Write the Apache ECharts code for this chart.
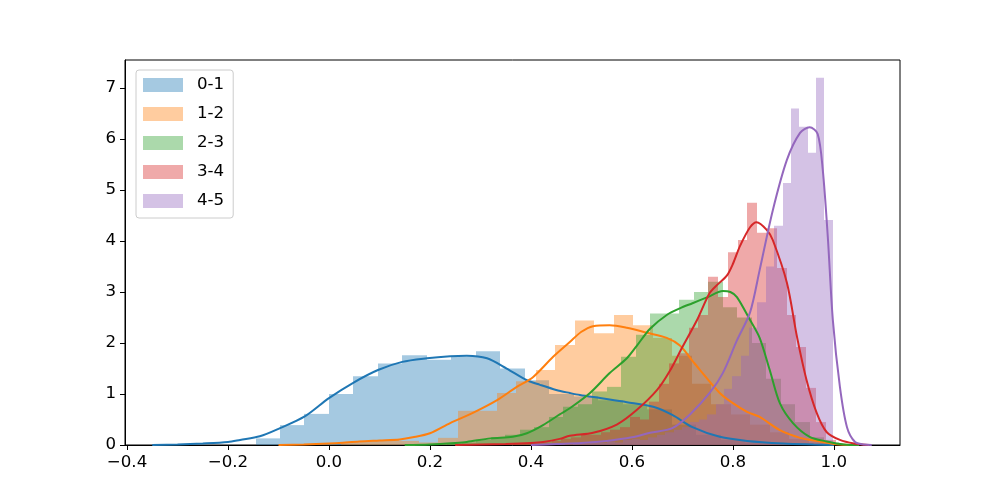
<!DOCTYPE html>
<html>
<head>
<meta charset="utf-8">
<script src="https://cdn.jsdelivr.net/npm/echarts@6/dist/echarts.min.js"></script>
<style>html,body{margin:0;padding:0;background:#fff}#c{width:1000px;height:500px}</style>
</head>
<body>
<div id="c"></div>
<script>
// ---------------- data ----------------
const names = ['0-1', '1-2', '2-3', '3-4', '4-5'];
const colors = ['#1f77b4', '#ff7f0e', '#2ca02c', '#d62728', '#9467bd'];

// histogram bins: first left edge, bin width, heights (density)
const binStart = [-0.1455, 0.0238, 0.2347, 0.3244, 0.4502];
const binWidth = [0.0485, 0.0386, 0.0287, 0.0194, 0.0166];
const hist0 = [0.13, 0.39, 0.61, 1.0, 1.35, 1.6, 1.76, 1.67, 1.73, 1.84, 1.5, 1.27, 1.0, 0.95, 0.88, 0.8, 0.7, 0.4, 0.2, 0.1, 0.05, 0.03];
const hist1 = [0.05, 0.08, 0.1, 0.08, 0.05, 0.14, 0.67, 0.67, 1.02, 1.25, 1.47, 1.96, 2.44, 2.19, 2.55, 2.35, 2.1, 1.75, 1.2, 0.8, 0.6, 0.4, 0.25, 0.12, 0.05];
const hist2 = [0.03, 0.05, 0.1, 0.15, 0.2, 0.3, 0.35, 0.55, 0.75, 0.8, 1.05, 1.14, 1.73, 2.16, 2.58, 2.58, 2.85, 3.0, 3.2, 2.7, 2.5, 2.0, 1.3, 0.8, 0.45, 0.15, 0.05];
const hist3 = [0.02, 0, 0.03, 0.02, 0.04, 0.05, 0.08, 0.12, 0.15, 0.2, 0.2, 0.25, 0.3, 0.35, 0.55, 0.5, 0.85, 1.2, 1.6, 1.8, 2.3, 2.55, 3.3, 2.9, 3.78, 4.02, 4.75, 4.16, 4.25, 3.47, 2.55, 1.92, 1.12, 0.45, 0.1];
const hist4 = [0.02, 0, 0.03, 0.02, 0.05, 0.04, 0.07, 0.05, 0.1, 0.12, 0.1, 0.15, 0.2, 0.25, 0.3, 0.35, 0.45, 0.5, 0.6, 0.8, 1.1, 1.35, 1.75, 2.3, 2.8, 3.5, 4.3, 5.14, 6.6, 6.24, 5.73, 7.2, 4.41];

// KDE curves [x, density]
const kde0 = [[-0.35,0.0],[-0.3,0.01],[-0.25,0.03],[-0.2,0.06],[-0.176,0.1],[-0.137,0.17],[-0.097,0.33],[-0.048,0.56],[0,0.92],[0.048,1.22],[0.097,1.47],[0.145,1.63],[0.194,1.7],[0.24,1.74],[0.273,1.75],[0.313,1.7],[0.352,1.5],[0.392,1.27],[0.418,1.18],[0.45,1.08],[0.477,1.02],[0.497,0.98],[0.537,0.92],[0.59,0.84],[0.642,0.75],[0.68,0.59],[0.72,0.35],[0.774,0.16],[0.828,0.08],[0.9,0.03],[0.96,0.01],[1.0,0.0]];
const kde1 = [[-0.1,0.0],[-0.05,0.01],[0.0,0.03],[0.02,0.04],[0.06,0.07],[0.1,0.09],[0.14,0.11],[0.166,0.15],[0.2,0.23],[0.24,0.43],[0.285,0.63],[0.333,0.88],[0.372,1.14],[0.404,1.33],[0.444,1.73],[0.477,2.02],[0.5,2.22],[0.523,2.33],[0.556,2.35],[0.59,2.3],[0.63,2.2],[0.669,2.1],[0.695,1.95],[0.72,1.65],[0.735,1.47],[0.774,1.02],[0.8,0.82],[0.828,0.65],[0.853,0.55],[0.893,0.29],[0.933,0.14],[0.972,0.07],[1.0,0.02],[1.03,0.0]];
const kde2 = [[0.15,0.0],[0.2,0.01],[0.25,0.04],[0.273,0.06],[0.32,0.13],[0.364,0.16],[0.392,0.23],[0.424,0.39],[0.457,0.6],[0.477,0.72],[0.517,1.02],[0.556,1.41],[0.59,1.7],[0.61,1.95],[0.636,2.28],[0.669,2.55],[0.695,2.68],[0.72,2.78],[0.75,2.9],[0.78,3.02],[0.795,3.0],[0.808,2.9],[0.834,2.45],[0.853,2.1],[0.873,1.47],[0.893,0.82],[0.919,0.43],[0.952,0.16],[0.986,0.07],[1.02,0.01],[1.05,0.0]];
const kde3 = [[0.25,0.0],[0.3,0.01],[0.35,0.02],[0.4,0.04],[0.424,0.06],[0.457,0.12],[0.477,0.18],[0.523,0.24],[0.57,0.4],[0.61,0.69],[0.65,1.08],[0.675,1.45],[0.7,1.92],[0.729,2.45],[0.754,2.98],[0.77,3.15],[0.788,3.32],[0.8,3.55],[0.814,3.9],[0.834,4.27],[0.847,4.37],[0.867,4.22],[0.879,4.02],[0.907,3.18],[0.927,2.12],[0.946,1.27],[0.966,0.63],[0.986,0.25],[1.012,0.1],[1.04,0.03],[1.07,0.0]];
const kde4 = [[0.4,0.0],[0.45,0.02],[0.5,0.04],[0.55,0.08],[0.6,0.15],[0.636,0.24],[0.68,0.33],[0.715,0.6],[0.754,1.02],[0.78,1.41],[0.808,2.05],[0.834,2.6],[0.853,3.43],[0.879,4.6],[0.907,5.59],[0.933,6.12],[0.952,6.23],[0.968,6.1],[0.978,5.4],[0.988,4.08],[0.998,2.45],[1.012,1.14],[1.026,0.35],[1.042,0.06],[1.06,0.01],[1.075,0.0]];

const xTicks = [-0.4, -0.2, 0.0, 0.2, 0.4, 0.6, 0.8, 1.0];
const yTicks = [0, 1, 2, 3, 4, 5, 6, 7];

// ---------------- chart ----------------
const hists = [hist0, hist1, hist2, hist3, hist4];
const kdes = [kde0, kde1, kde2, kde3, kde4];

function rgba(hex, a) {
  const n = parseInt(hex.slice(1), 16);
  return 'rgba(' + (n >> 16) + ',' + ((n >> 8) & 255) + ',' + (n & 255) + ',' + a + ')';
}

function renderBar(params, api) {
  const p0 = api.coord([api.value(0), api.value(2)]);
  const p1 = api.coord([api.value(1), 0]);
  const x0 = Math.round(p0[0]), x1 = Math.round(p1[0]);
  return {
    type: 'rect',
    shape: { x: x0, y: p0[1], width: x1 - x0, height: p1[1] - p0[1] },
    style: api.style()
  };
}

const series = [];
for (let s = 0; s < 5; s++) {
  const data = hists[s].map((h, i) => [binStart[s] + i * binWidth[s], binStart[s] + (i + 1) * binWidth[s], h]);
  series.push({
    name: names[s],
    type: 'custom',
    renderItem: renderBar,
    encode: { x: [0, 1], y: 2 },
    itemStyle: { color: rgba(colors[s], 0.4) },
    data: data,
    silent: true
  });
  series.push({
    name: 'kde' + s,
    type: 'line',
    data: kdes[s],
    smooth: 0.3,
    symbol: 'none',
    lineStyle: { color: colors[s], width: 2 },
    itemStyle: { color: colors[s] },
    silent: true
  });
}

const FONT = 'DejaVu Sans';
const chart = echarts.init(document.getElementById('c'), null, { renderer: 'canvas' });
chart.setOption({
  animation: false,
  backgroundColor: '#fff',
  grid: { left: 125, right: 100, top: 60, bottom: 55, show: true, borderColor: '#000', borderWidth: 1, backgroundColor: 'transparent' },
  legend: {
    data: names,
    orient: 'vertical',
    left: 136, top: 70,
    padding: [5, 9, 7, 7],
    itemWidth: 40, itemHeight: 14, itemGap: 9,
    icon: 'rect',
    backgroundColor: 'rgba(255,255,255,0.8)',
    borderColor: '#cccccc', borderWidth: 1, borderRadius: 3,
    textStyle: { fontFamily: FONT, fontSize: 16.67, color: '#000', padding: [0, 0, 0, 9], lineHeight: 20 }
  },
  xAxis: {
    type: 'value', min: -0.404, max: 1.131,
    splitLine: { show: false },
    axisLine: { show: true, onZero: false, lineStyle: { color: '#000', width: 1 } },
    axisTick: { show: true, length: 5, lineStyle: { color: '#000', width: 1 }, customValues: xTicks },
    axisLabel: { customValues: xTicks, margin: 9, fontFamily: FONT, fontSize: 16.67, color: '#000',
      formatter: v => v.toFixed(1).replace('-', '\u2212') }
  },
  yAxis: {
    type: 'value', min: 0, max: 7.55,
    splitLine: { show: false },
    axisLine: { show: true, onZero: false, lineStyle: { color: '#000', width: 1 } },
    axisTick: { show: true, length: 5, lineStyle: { color: '#000', width: 1 }, customValues: yTicks },
    axisLabel: { customValues: yTicks, margin: 9, fontFamily: FONT, fontSize: 16.67, color: '#000',
      formatter: v => String(Math.round(v)) }
  },
  series: series
});
</script>
</body>
</html>
